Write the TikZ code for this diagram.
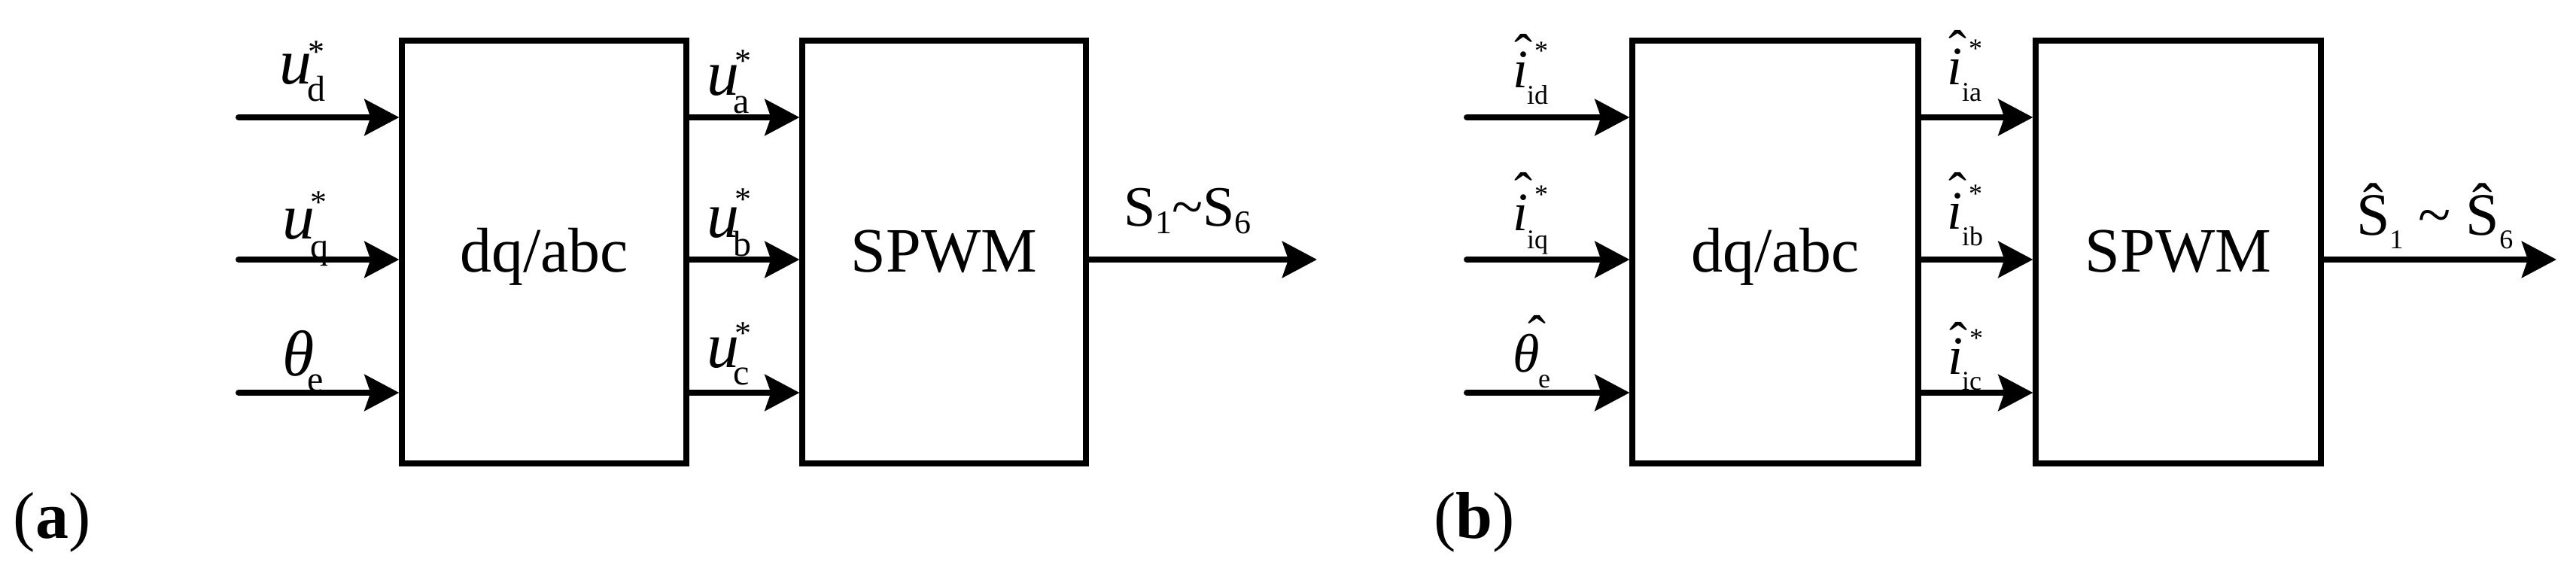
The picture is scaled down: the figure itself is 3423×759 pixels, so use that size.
\documentclass[tikz,border=0pt]{standalone}
\usepackage{fontspec}
\setmainfont{Liberation Serif}
\usetikzlibrary{arrows.meta}
\tikzset{
  x=0.25pt, y=-0.25pt,
  blk/.style={draw, line width=1.8pt, minimum width=#1, minimum height=140.5pt,
    inner sep=0pt, text height=13pt, text depth=0pt, font=\fontsize{21}{21}\selectfont},
  arr/.style={line width=2pt, line cap=round, -{Stealth[length=11.5pt, width=12pt, inset=2pt]}},
  lbl/.style={inner sep=0pt, outer sep=0pt, anchor=base west},
  mA/.style={lbl, font=\fontsize{21.5}{22}\selectfont\itshape},
  sA/.style={lbl, font=\fontsize{12}{12}\selectfont},
  stA/.style={lbl, font=\fontsize{11}{11}\selectfont},
  mB/.style={lbl, font=\fontsize{18}{18}\selectfont\itshape},
  sB/.style={lbl, font=\fontsize{9}{9}\selectfont},
  stB/.style={lbl, font=\fontsize{9}{9}\selectfont},
  hatB/.style={inner sep=0pt, outer sep=0pt, anchor=north, font=\fontsize{18}{18}\selectfont},
  sig/.style={lbl},
  tag/.style={lbl, font=\fontsize{22}{22}\selectfont},
}
\begin{document}
\begin{tikzpicture}
\useasboundingbox (0,0) rectangle (3423,759);
% ---------------- panel (a) ----------------
\node[blk=94.5pt] (dq1) at (723,335) {dq/abc};
\node[blk=94.25pt] (sp1) at (1254.5,335) {SPWM};
\coordinate (inA1) at (317,156);
\coordinate (inA2) at (317,345);
\coordinate (inA3) at (317,522);
\coordinate (outA) at (1750,345);
\draw[arr] (inA1) -- (dq1.west |- inA1);
\draw[arr] (inA2) -- (dq1.west |- inA2);
\draw[arr] (inA3) -- (dq1.west |- inA3);
\draw[arr] (dq1.east |- inA1) -- (sp1.west |- inA1);
\draw[arr] (dq1.east |- inA2) -- (sp1.west |- inA2);
\draw[arr] (dq1.east |- inA3) -- (sp1.west |- inA3);
\draw[arr] (sp1.east |- inA2) -- (outA);
% input labels
\node[mA] (udm) at (371,112) {u};
\node[sA] (uds) at (408,135) {d};
\node[stA] (udt) at (409,84) {*};
\node[mA] (uqm) at (375,317) {u};
\node[sA] (uqs) at (412,343) {q};
\node[stA] (uqt) at (412,283) {*};
\node[mA] (thm) at (375,499) {θ};
\node[sA] (ths) at (408,520) {e};
% output labels
\node[mA] (uam) at (939,127) {u};
\node[sA] (uas) at (974,151) {a};
\node[stA] (uat) at (976,96) {*};
\node[mA] (ubm) at (939,315) {u};
\node[sA] (ubs) at (974,340) {b};
\node[stA] (ubt) at (976,280) {*};
\node[mA] (ucm) at (939,488) {u};
\node[sA] (ucs) at (974,511) {c};
\node[stA] (uct) at (976,457) {*};
\node[sig, font=\fontsize{19}{19}\selectfont] (sA) at (1493,300)
  {S\raisebox{-2.5pt}{\fontsize{11}{11}\selectfont 1}\textasciitilde S\raisebox{-2.5pt}{\fontsize{11}{11}\selectfont 6}};
\node[tag] (ta) at (18,715) {(\textbf{a})};
% ---------------- panel (b) ----------------
\node[blk=95pt] (dq2) at (2359,335) {dq/abc};
\node[blk=94.75pt] (sp2) at (2894.5,335) {SPWM};
\coordinate (inB1) at (1949,156);
\coordinate (inB2) at (1949,345);
\coordinate (inB3) at (1949,522);
\coordinate (outB) at (3397,345);
\draw[arr] (inB1) -- (dq2.west |- inB1);
\draw[arr] (inB2) -- (dq2.west |- inB2);
\draw[arr] (inB3) -- (dq2.west |- inB3);
\draw[arr] (dq2.east |- inB1) -- (sp2.west |- inB1);
\draw[arr] (dq2.east |- inB2) -- (sp2.west |- inB2);
\draw[arr] (dq2.east |- inB3) -- (sp2.west |- inB3);
\draw[arr] (sp2.east |- inB2) -- (outB);
% input labels
\node[mB] (idm) at (2010,117) {i};
\node[hatB] (idh) at (2024,45) {ˆ};
\node[stB] (idt) at (2039,80) {*};
\node[sB] (ids) at (2029,138) {id};
\node[mB] (iqm) at (2010,306) {i};
\node[hatB] (iqh) at (2024,229) {ˆ};
\node[stB] (iqt) at (2039,270) {*};
\node[sB] (iqs) at (2029,330) {iq};
\node[mB] (tbm) at (2010,494) {θ};
\node[hatB] (tbh) at (2042,419) {ˆ};
\node[sB] (tbs) at (2044,515) {e};
% output labels
\node[mB] (iam) at (2587,113) {i};
\node[hatB] (iah) at (2601,40) {ˆ};
\node[stB] (iat) at (2616,77) {*};
\node[sB] (ias) at (2607,135) {ia};
\node[mB] (ibm) at (2587,304) {i};
\node[hatB] (ibh) at (2601,229) {ˆ};
\node[stB] (ibt) at (2616,269) {*};
\node[sB] (ibs) at (2607,326) {ib};
\node[mB] (icm) at (2588,497) {i};
\node[hatB] (ich) at (2602,428) {ˆ};
\node[stB] (ict) at (2617,461) {*};
\node[sB] (ics) at (2607,518) {ic};
\node[sig, font=\fontsize{20}{20}\selectfont] (sB) at (3131,312)
  {Ŝ\raisebox{-4.5pt}{\fontsize{9}{9}\selectfont 1} \textasciitilde{} Ŝ\raisebox{-4.5pt}{\fontsize{9}{9}\selectfont 6}};
\node[tag] (tb) at (1905,715) {(\textbf{b})};
\end{tikzpicture}
\end{document}
